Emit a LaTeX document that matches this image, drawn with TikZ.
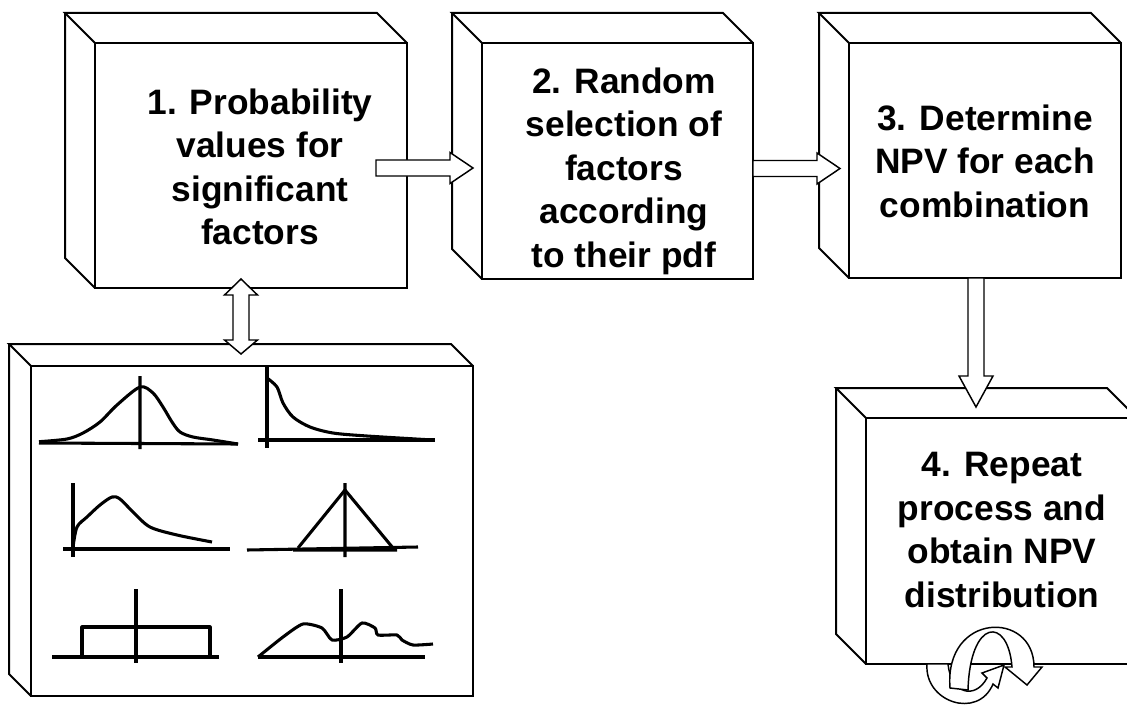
\documentclass[tikz,border=0pt]{standalone}
\usepackage{fontspec}
\setmainfont{Liberation Sans}
\usetikzlibrary{calc}

\newcommand\boxsides[2]{%
  \draw[edge] (#1.north west) -- ++(-#2,-#2) -- ($(#1.north east)+(-#2,-#2)$) -- (#1.north east);
  \draw[edge] ($(#1.north west)+(-#2,-#2)$) -- ($(#1.south west)+(-#2,-#2)$) -- (#1.south west);}
\newcommand\harrow[2]{%
  \draw[blk] ($(#1)+(0,-8)$) -- ($(#2)+(-23,-8)$) -- ($(#2)+(-23,-15.5)$) -- (#2)
    -- ($(#2)+(-23,15.5)$) -- ($(#2)+(-23,8)$) -- ($(#1)+(0,8)$) -- cycle;}
\newcommand\varrow[2]{%
  \draw[blk] ($(#1)+(-8,0)$) -- ($(#2)+(-8,-31)$) -- ($(#2)+(-17,-31)$) -- (#2)
    -- ($(#2)+(17,-31)$) -- ($(#2)+(8,-31)$) -- ($(#1)+(8,0)$) -- cycle;}
\newcommand\dvarrow[2]{%
  \draw[blk] (#1) -- ($(#1)+(16.5,16)$) -- ($(#1)+(8,16)$) -- ($(#2)+(8,-14)$) -- ($(#2)+(16.5,-14)$)
    -- (#2) -- ($(#2)+(-16.5,-14)$) -- ($(#2)+(-8,-14)$) -- ($(#1)+(-8,16)$) -- ($(#1)+(-16.5,16)$) -- cycle;}

\begin{document}
\begin{tikzpicture}[x=0.75pt,y=-0.75pt,
  edge/.style={line width=1.5pt,line join=miter},
  face/.style={draw,line width=1.5pt,inner sep=0pt,outer sep=0pt},
  lbl/.style={align=center,font=\fontsize{26.5}{32.6}\selectfont\bfseries},
  blk/.style={draw,fill=white,line width=1.1pt,line join=miter},
  pdf/.style={line width=2.3pt,line join=round}]
\clip (0,0) rectangle (1127,706);

\node[face,minimum width=234pt,minimum height=183.75pt] (f1) at (251,165.5) {};
\node[face,minimum width=203.25pt,minimum height=177pt] (f2) at (617.5,161) {};
\node[face,minimum width=204pt,minimum height=176.25pt] (f3) at (985,160.5) {};
\node[face,minimum width=203.25pt,minimum height=184.5pt] (f4) at (1001.5,541) {};
\node[face,minimum width=331.5pt,minimum height=247.5pt] (f5) at (252,531) {};
\boxsides{f1}{30}
\boxsides{f2}{30}
\boxsides{f3}{30}
\boxsides{f4}{30}
\boxsides{f5}{22}

\coordinate (a1s) at ($(f1.east)+(-31,2.5)$);
\coordinate (a1e) at ($(f2.west)+(-9,7)$);
\coordinate (a2s) at ($(f2.east)+(0,7.5)$);
\coordinate (a2e) at ($(f3.west)+(-9,8)$);
\coordinate (a3s) at ($(f3.south)+(-9,0)$);
\coordinate (a3e) at ($(f4.north)+(-25.5,-11)$);
\coordinate (a4s) at ($(f1.south)+(-10,-9)$);
\coordinate (a4e) at ($(f5.north)+(-11,-12)$);
\harrow{a1s}{a1e}
\harrow{a2s}{a2e}
\varrow{a3s}{a3e}
\dvarrow{a4s}{a4e}

\node[lbl] (t1) at (260,167) {1. Probability\\values for\\significant\\factors};
\node[lbl] (t2) at (624,171) {2. Random\\selection of\\factors\\according\\to their pdf};
\node[lbl] (t3) at (985,161) {3. Determine\\NPV for each\\combination};
\node[lbl] (t4) at (1002,530) {4. Repeat\\process and\\obtain NPV\\distribution};

\draw[pdf] (39,443) -- (238,444) (140,376) -- (140,449);
\draw[pdf] plot[smooth] coordinates {(39,441.7) (67,439) (83,433) (100,422) (117,405) (140,387) (153,393) (163,407) (172,422) (180,432) (193,437) (213,440) (238,444)};
\draw[pdf] (258,440) -- (435,440) (267,367) -- (267,448);
\draw[pdf] plot[smooth] coordinates {(267,378) (277,387) (283,403) (293,417) (310,427) (333,433) (367,436) (433,440)};
\draw[pdf] (63,549) -- (230,549) (73,483) -- (73,557);
\draw[pdf] plot[smooth] coordinates {(73,547) (77,527) (87,517) (100,505) (112,497) (120,499) (133,512) (150,527) (177,535) (212,542)};
\draw[pdf] (247,550) -- (418,547) (345,483) -- (345,557);
\draw[pdf] (298,548) -- (345,490) -- (393,548) (293,550) -- (397,550);
\draw[pdf] (52,657) -- (219,657) (136,589) -- (136,663);
\draw[pdf] (82,657) -- (82,627) -- (210,627) -- (210,657);
\draw[pdf] (258,657) -- (425,657) (341,589) -- (341,663);
\draw[pdf] plot[smooth,tension=0.4] coordinates {(258,657) (283,637) (303,624) (322,628) (332,640) (347,637) (362,623) (375,628) (378,635) (397,635) (402,640) (413,645) (433,644)};

\draw[blk] (927,664) .. controls (924,702) and (978,720) .. (993,684) -- (998,688) -- (1004,665)
  -- (982,673) -- (987,678) .. controls (975,700) and (951,694) .. (948,664) -- cycle;
\draw[blk] (950,688) .. controls (944,612) and (1034,610) .. (1034,667) -- (1042,667) -- (1027,685)
  -- (1005,667) -- (1012,667) .. controls (1008,616) and (970,618) .. (968,690) -- cycle;
\end{tikzpicture}
\end{document}
